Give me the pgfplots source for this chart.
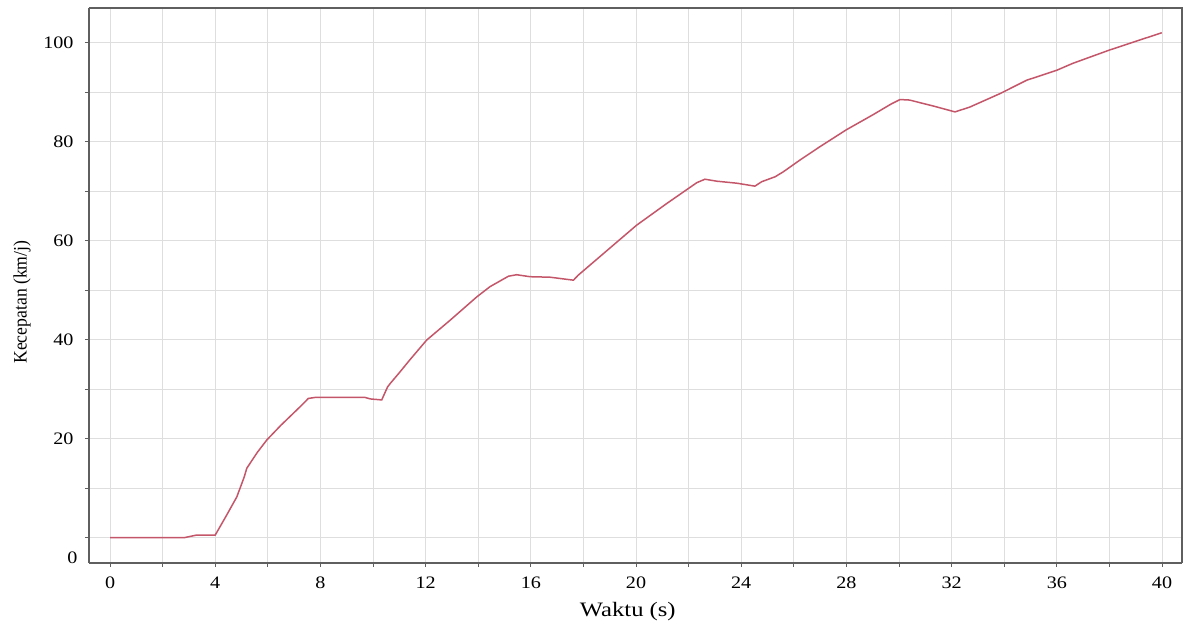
\documentclass[border=0pt]{standalone}
\usepackage{pgfplots}
\pgfplotsset{compat=1.18}
\usepackage{fontspec}
\setmainfont{Liberation Serif}
\newfontfamily\tickfont[FakeStretch=1.15]{Liberation Serif}
\newfontfamily\xlabfont[FakeStretch=1.2]{Liberation Serif}
\newfontfamily\ylabfont[FakeStretch=0.93]{Liberation Serif}
\usetikzlibrary{calc}
\definecolor{linecol}{RGB}{196,86,106}
\definecolor{gridcol}{RGB}{222,222,222}
\definecolor{axcol}{RGB}{95,95,95}
\begin{document}
\begin{tikzpicture}[x=1pt,y=1pt]
\begin{axis}[
  scale only axis,
  width=1093pt, height=555pt,
  xmin=-0.8, xmax=40.76,
  ymin=-5.15, ymax=107.0,
  xtick={0,4,...,40},
  minor xtick={2,6,...,38},
  ytick={20,40,...,100},
  minor ytick={0,10,30,50,70,90},
  extra y ticks={-4.14},
  extra y tick labels={0},
  extra y tick style={major tick length=0pt, grid=none},
  grid=both,
  major grid style={gridcol, line width=1pt},
  minor grid style={gridcol, line width=1pt},
  axis line style={axcol, line width=1.5pt},
  tick style={axcol, line width=1pt},
  tick align=outside,
  major tick length=4pt, minor tick length=4pt,
  axis x line*=bottom, axis y line*=left,
  /pgf/number format/assume math mode=true,
  ticklabel style={font=\tickfont\fontsize{17.5}{20}\selectfont, color=black},
  xticklabel style={yshift=-6pt},
  yticklabel style={xshift=-8pt},
  xlabel={Waktu (s)},
  ylabel={Kecepatan (km/j)},
  xlabel style={font=\xlabfont\fontsize{20.5}{24}\selectfont, at={(axis description cs:0.493,-0.088)}, anchor=center},
  ylabel style={font=\ylabfont\fontsize{19}{22}\selectfont, at={(axis description cs:-0.0613,0.47)}, anchor=center},
  clip=false,
]
\addplot[linecol, line width=1.5pt] coordinates {
(0,0) (2.85,0) (3.3,0.5) (4.0,0.5) (4.4,4.2) (4.82,8.2) (5.1,12.2) (5.2,14.0)
(5.6,17.2) (5.96,19.7) (6.5,22.7) (6.97,25.1) (7.3,26.8) (7.54,28.1) (7.79,28.3)
(9.7,28.3) (9.9,28.0) (10.33,27.8) (10.55,30.4) (10.65,31.1) (11.0,33.3) (11.4,35.9)
(12.04,39.9) (12.93,43.9) (13.94,48.6) (14.45,50.7) (15.15,52.8) (15.46,53.1)
(15.97,52.7) (16.73,52.6) (17.62,52.0) (17.8,53.0) (19.14,59.1) (20.02,63.1)
(21.17,67.5) (22.31,71.7) (22.62,72.4) (23.07,72.0) (23.83,71.6) (24.52,71.0)
(24.78,71.9) (25.29,72.9) (25.6,73.9) (26.24,76.3) (27.0,79.0) (28.0,82.4)
(29.0,85.4) (29.7,87.6) (30.04,88.5) (30.4,88.4) (31.3,87.2) (32.13,86.0)
(32.7,87.0) (33.84,89.7) (34.85,92.4) (35.99,94.4) (36.6,95.8) (38.0,98.5) (39.99,102.0)
};
\end{axis}
\draw[axcol, line width=1.5pt] (current axis.south west |- current axis.north east) -- (current axis.north east) -- (current axis.north east |- current axis.south west);
\path ($(current axis.south west)+(-89pt,-64pt)$) rectangle ($(current axis.north east)+(1pt,8pt)$);
\end{tikzpicture}
\end{document}
